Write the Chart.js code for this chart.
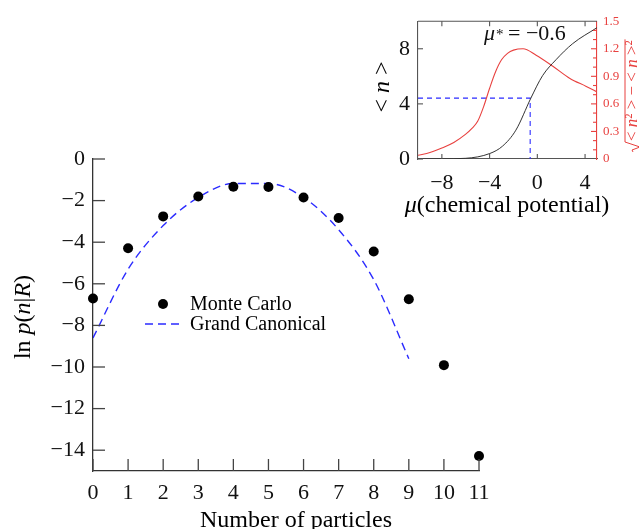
<!DOCTYPE html>
<html>
<head>
<meta charset="utf-8">
<script src="https://cdn.jsdelivr.net/npm/chart.js@4.4.0/dist/chart.umd.min.js"></script>
<style>
html, body { margin: 0; padding: 0; background: #fff; }
#wrap { position: relative; width: 639px; height: 529px; }
#mainChart { position: absolute; left: 0; top: 0; }
#insetChart { position: absolute; left: 360px; top: 0; }
</style>
</head>
<body>
<div id="wrap">
<canvas id="mainChart" width="639" height="529"></canvas>
<canvas id="insetChart" width="279" height="230"></canvas>
</div>
<script>
// main plot: ln p(n|R) against number of particles
var particleCounts = [0, 1, 2, 3, 4, 5, 6, 7, 8, 9, 10, 11];
var monteCarloLnP = [-6.71, -4.29, -2.76, -1.80, -1.33, -1.35, -1.85, -2.84, -4.45, -6.74, -9.91, -14.28];
var canonicalCounts = [0, 1, 2, 3, 4, 5, 6, 7, 8, 9];
var grandCanonicalLnP = [-8.6, -5.3, -3.2, -1.85, -1.18, -1.18, -1.85, -3.4, -5.8, -9.6];
var xTicks = [0, 1, 2, 3, 4, 5, 6, 7, 8, 9, 10, 11];
var yTicks = [0, -2, -4, -6, -8, -10, -12, -14];

// inset: <n> and its spread against chemical potential
var muValues = [-10, -8, -6, -3.98, -2.92, -1.8, -0.54, 0.44, 1.56, 2.96, 5];
var meanN = [0, 0.01, 0.05, 0.4, 0.93, 2.09, 4.42, 6.05, 7.2, 8.37, 9.53];
var spreadMu = [-10, -9, -8, -7, -6, -5.5, -5, -4.5, -4, -3.5, -3, -2.5, -2, -1.2, -0.1, 1.3, 2.7, 4.1, 5];
var spreadN = [0.04, 0.07, 0.12, 0.18, 0.27, 0.33, 0.41, 0.57, 0.77, 0.95, 1.08, 1.15, 1.185, 1.2, 1.13, 1.01, 0.88, 0.79, 0.73];
var markerMu = [-10, -0.6, -0.6];
var markerN = [4.42, 4.42, 0];
var muTicks = [-8, -4, 0, 4];
var nTicks = [0, 4, 8];
var spreadTicks = [0, 0.3, 0.6, 0.9, 1.2, 1.5];

var serif = "'Liberation Serif', 'Times New Roman', serif";
var blue = '#2b2bff';
var red = '#e8413f';

function pts(xs, ys) {
  return xs.map(function(x, i) { return {x: x, y: ys[i]}; });
}
function minusFmt(v) {
  return String(v).replace('-', '\u2212');
}
function fontOf(s, size) {
  return (s.it ? 'italic ' : '') + (s.sz || size) + 'px ' + serif;
}
// draw text made of upright / italic pieces, centred on x
function drawRich(ctx, segs, x, y, rot, size, color, align) {
  ctx.save();
  ctx.translate(x, y);
  if (rot) ctx.rotate(-Math.PI / 2);
  ctx.fillStyle = color || '#000';
  ctx.textBaseline = 'alphabetic';
  ctx.textAlign = 'left';
  var total = 0;
  segs.forEach(function(s) { ctx.font = fontOf(s, size); total += ctx.measureText(s.t).width; });
  var cur = align == 'left' ? 0 : -total / 2;
  segs.forEach(function(s) {
    ctx.font = fontOf(s, size);
    ctx.fillText(s.t, cur + (s.dx || 0), s.dy || 0);
    cur += ctx.measureText(s.t).width;
  });
  ctx.restore();
  return total;
}

var mainDecor = {
  id: 'mainDecor',
  afterDraw: function(chart) {
    var ctx = chart.ctx, a = chart.chartArea;
    var xs = chart.scales.x, ys = chart.scales.y;
    ctx.save();
    ctx.strokeStyle = '#444';
    ctx.lineWidth = 1.3;
    xs.ticks.forEach(function(t) {
      var px = xs.getPixelForValue(t.value);
      ctx.beginPath(); ctx.moveTo(px, a.bottom); ctx.lineTo(px, a.bottom - 12); ctx.stroke();
    });
    ys.ticks.forEach(function(t) {
      var py = ys.getPixelForValue(t.value);
      ctx.beginPath(); ctx.moveTo(a.left, py); ctx.lineTo(a.left + 12, py); ctx.stroke();
    });
    // legend
    ctx.fillStyle = '#000';
    ctx.beginPath(); ctx.arc(163, 304, 5, 0, Math.PI * 2); ctx.fill();
    ctx.strokeStyle = blue; ctx.lineWidth = 1.4; ctx.setLineDash([8, 5]);
    ctx.beginPath(); ctx.moveTo(145, 324); ctx.lineTo(183, 324); ctx.stroke();
    ctx.setLineDash([]);
    ctx.font = '20px ' + serif;
    ctx.textBaseline = 'middle';
    ctx.fillText('Monte Carlo', 190, 305);
    ctx.fillText('Grand Canonical', 190, 325);
    ctx.restore();
    drawRich(ctx, [{t: 'Number of particles'}], 296, 527, false, 24);
    drawRich(ctx, [{t: 'ln '}, {t: 'p', it: 1}, {t: '('}, {t: 'n', it: 1}, {t: '|'}, {t: 'R', it: 1}, {t: ')'}],
      30, 317, true, 24);
  }
};

new Chart(document.getElementById('mainChart'), {
  type: 'scatter',
  data: {
    datasets: [
      {
        label: 'Monte Carlo',
        data: pts(particleCounts, monteCarloLnP),
        pointRadius: 5,
        backgroundColor: '#000',
        borderWidth: 0,
        clip: false
      },
      {
        label: 'Grand Canonical',
        type: 'line',
        data: pts(canonicalCounts, grandCanonicalLnP),
        borderColor: blue,
        borderWidth: 1.4,
        borderDash: [8, 5],
        pointRadius: 0,
        fill: false,
        cubicInterpolationMode: 'monotone'
      }
    ]
  },
  options: {
    responsive: false,
    animation: false,
    layout: {padding: {top: 159, right: 160, left: 0, bottom: 0}},
    plugins: {legend: {display: false}, tooltip: {enabled: false}},
    scales: {
      x: {
        type: 'linear', min: 0, max: 11,
        afterFit: function(s) { s.height = 58; },
        afterBuildTicks: function(s) { s.ticks = xTicks.map(function(v) { return {value: v}; }); },
        grid: {display: false, drawTicks: false},
        border: {color: '#333', width: 1.3},
        ticks: {font: {family: serif, size: 22}, color: '#111', padding: 9, maxRotation: 0, autoSkip: false, callback: minusFmt}
      },
      y: {
        type: 'linear', min: -15, max: 0,
        afterFit: function(s) { s.width = 93; },
        afterBuildTicks: function(s) { s.ticks = yTicks.map(function(v) { return {value: v}; }); },
        grid: {display: false, drawTicks: false},
        border: {color: '#333', width: 1.3},
        ticks: {font: {family: serif, size: 22}, color: '#111', padding: 8, autoSkip: false, callback: minusFmt}
      }
    }
  },
  plugins: [mainDecor]
});

var insetDecor = {
  id: 'insetDecor',
  afterDraw: function(chart) {
    var ctx = chart.ctx, a = chart.chartArea;
    var xs = chart.scales.x, ys = chart.scales.y, y2 = chart.scales.y2;
    ctx.save();
    ctx.strokeStyle = '#555';
    ctx.lineWidth = 1.1;
    ctx.beginPath(); ctx.moveTo(a.left, a.top); ctx.lineTo(a.right, a.top); ctx.stroke();
    xs.ticks.forEach(function(t) {
      var px = xs.getPixelForValue(t.value);
      ctx.beginPath(); ctx.moveTo(px, a.bottom); ctx.lineTo(px, a.bottom - 5); ctx.stroke();
      ctx.beginPath(); ctx.moveTo(px, a.top); ctx.lineTo(px, a.top + 5); ctx.stroke();
    });
    ys.ticks.forEach(function(t) {
      var py = ys.getPixelForValue(t.value);
      ctx.beginPath(); ctx.moveTo(a.left, py); ctx.lineTo(a.left + 5, py); ctx.stroke();
    });
    ctx.strokeStyle = red;
    for (var k = 1; k < 15; k++) {
      var py = y2.getPixelForValue(k / 10);
      ctx.beginPath(); ctx.moveTo(a.right, py); ctx.lineTo(a.right - (k % 3 == 0 ? 6 : 4), py); ctx.stroke();
    }
    ctx.restore();

    drawRich(ctx, [{t: '\u03bc', it: 1}, {t: '*', sz: 15, dy: -1, dx: 1}, {t: ' = \u22120.6'}], 124, 40, false, 22, '#111', 'left');
    drawRich(ctx, [{t: '< '}, {t: 'n', it: 1}, {t: ' >'}], 29, 87, true, 24);
    drawRich(ctx, [{t: '\u03bc', it: 1}, {t: '(chemical potential)'}], 147, 212, false, 24);

    // red right-hand title: sqrt(<n^2> - <n>^2)
    ctx.save();
    ctx.translate(277, 152);
    ctx.rotate(-Math.PI / 2);
    ctx.fillStyle = red;
    ctx.textBaseline = 'alphabetic';
    var segs = [{t: '< '}, {t: 'n', it: 1}, {t: '\u00b2 > \u2212 < '}, {t: 'n', it: 1}, {t: ' >\u00b2'}];
    var cur = 11;
    segs.forEach(function(s) {
      ctx.font = fontOf(s, 17);
      ctx.fillText(s.t, cur, 0);
      cur += ctx.measureText(s.t).width;
    });
    ctx.strokeStyle = red;
    ctx.lineWidth = 1;
    ctx.beginPath();
    ctx.moveTo(0, -4); ctx.lineTo(2, -5); ctx.lineTo(5, 3); ctx.lineTo(10, -12); ctx.lineTo(cur + 1, -12);
    ctx.stroke();
    ctx.restore();
  }
};

new Chart(document.getElementById('insetChart'), {
  type: 'line',
  data: {
    datasets: [
      {
        label: '<n>',
        data: pts(muValues, meanN),
        borderColor: '#333',
        borderWidth: 1,
        pointRadius: 0,
        fill: false,
        cubicInterpolationMode: 'monotone',
        yAxisID: 'y'
      },
      {
        label: 'spread',
        data: pts(spreadMu, spreadN),
        borderColor: red,
        borderWidth: 1.1,
        pointRadius: 0,
        fill: false,
        cubicInterpolationMode: 'monotone',
        yAxisID: 'y2'
      },
      {
        label: 'mu*',
        data: pts(markerMu, markerN),
        borderColor: blue,
        borderWidth: 1.1,
        borderDash: [5, 4],
        pointRadius: 0,
        fill: false,
        tension: 0,
        yAxisID: 'y'
      }
    ]
  },
  options: {
    responsive: false,
    animation: false,
    layout: {padding: {top: 15, right: 0, left: 0, bottom: 0}},
    plugins: {legend: {display: false}, tooltip: {enabled: false}},
    scales: {
      x: {
        type: 'linear', min: -10, max: 5,
        afterFit: function(s) { s.height = 71; },
        afterBuildTicks: function(s) { s.ticks = muTicks.map(function(v) { return {value: v}; }); },
        grid: {display: false, drawTicks: false},
        border: {color: '#555', width: 1.1},
        ticks: {font: {family: serif, size: 22}, color: '#111', padding: 11, maxRotation: 0, autoSkip: false, callback: minusFmt}
      },
      y: {
        type: 'linear', position: 'left', min: 0, max: 10,
        afterFit: function(s) { s.width = 58; },
        afterBuildTicks: function(s) { s.ticks = nTicks.map(function(v) { return {value: v}; }); },
        grid: {display: false, drawTicks: false},
        border: {color: '#555', width: 1.1},
        ticks: {font: {family: serif, size: 22}, color: '#111', padding: 8, autoSkip: false, callback: minusFmt}
      },
      y2: {
        type: 'linear', position: 'right', min: 0, max: 1.5,
        afterFit: function(s) { s.width = 42; },
        afterBuildTicks: function(s) { s.ticks = spreadTicks.map(function(v) { return {value: v}; }); },
        grid: {display: false, drawTicks: false},
        border: {color: red, width: 1.1},
        ticks: {font: {family: serif, size: 13}, color: red, padding: 6, autoSkip: false, callback: function(v) { return String(v); }}
      }
    }
  },
  plugins: [insetDecor]
});
</script>
</body>
</html>
